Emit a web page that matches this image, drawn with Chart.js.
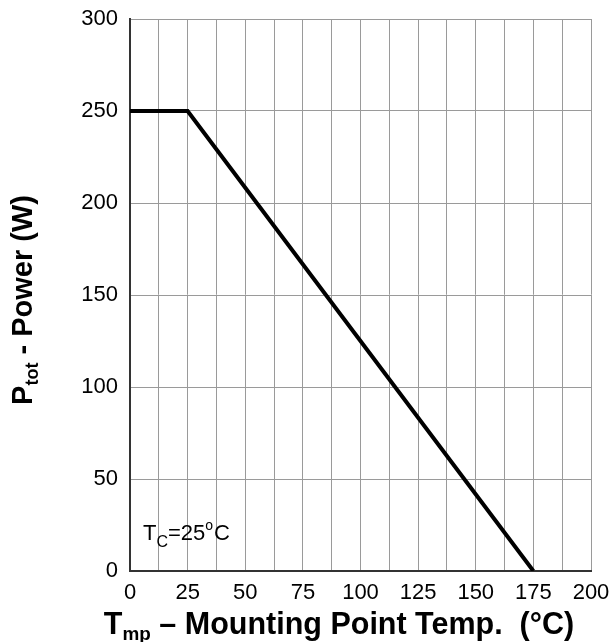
<!DOCTYPE html>
<html>
<head>
<meta charset="utf-8">
<script src="https://cdn.jsdelivr.net/npm/chart.js@4"></script>
<style>
  body { margin: 0; background: #fff; }
  #wrap { width: 611px; height: 642px; }
</style>
</head>
<body>
<div id="wrap"><canvas id="derating"></canvas></div>
<script>
// derating curve
const tempC = [0, 25, 175];
const powerW = [250, 250, 0];
const xTicks = [0, 25, 50, 75, 100, 125, 150, 175, 200];
const yTicks = [0, 50, 100, 150, 200, 250, 300];

const FONT = "'Liberation Sans', Arial, sans-serif";

// draws text with a subscript part: parts = [[text, sub?], ...]
function drawParts(ctx, parts, x, y, size, align) {
  let total = 0;
  parts.forEach(p => {
    ctx.font = "bold " + (p[1] ? size * 0.62 : size) + "px " + FONT;
    total += ctx.measureText(p[0]).width;
  });
  let cx = align === "center" ? x - total / 2 : x;
  parts.forEach(p => {
    ctx.font = "bold " + (p[1] ? size * 0.62 : size) + "px " + FONT;
    ctx.fillText(p[0], cx, p[1] ? y + size * 0.2 : y);
    cx += ctx.measureText(p[0]).width;
  });
}

const labelsPlugin = {
  id: "labels",
  afterDraw(chart) {
    const ctx = chart.ctx;
    ctx.save();
    ctx.fillStyle = "#000";
    ctx.textBaseline = "alphabetic";
    ctx.textAlign = "left";

    // x axis title
    drawParts(ctx, [["T"], ["mp", true], [" \u2013 Mounting Point Temp.  (\u00b0C)"]],
      339, 634, 30.5, "center");

    // y axis title
    ctx.translate(32, 300);
    ctx.rotate(-Math.PI / 2);
    drawParts(ctx, [["P"], ["tot", true], [" - Power (W)"]], 0, 0, 29, "center");
    ctx.restore();

    // TC note
    ctx.save();
    ctx.fillStyle = "#000";
    ctx.font = "22px " + FONT;
    let x = 143, y = 540;
    ctx.fillText("T", x, y);
    x += ctx.measureText("T").width;
    ctx.font = "16px " + FONT;
    ctx.fillText("C", x, y + 7);
    x += ctx.measureText("C").width;
    ctx.font = "22px " + FONT;
    ctx.fillText("=25", x, y);
    x += ctx.measureText("=25").width;
    ctx.font = "14px " + FONT;
    ctx.fillText("o", x, y - 10);
    x += ctx.measureText("o").width + 1;
    ctx.font = "22px " + FONT;
    ctx.fillText("C", x, y);
    ctx.restore();
  }
};

new Chart(document.getElementById("derating"), {
  type: "line",
  data: {
    datasets: [{
      data: tempC.map((t, i) => ({ x: t, y: powerW[i] })),
      borderColor: "#000",
      borderWidth: 4,
      pointRadius: 0,
      tension: 0
    }]
  },
  options: {
    responsive: true,
    maintainAspectRatio: false,
    animation: false,
    layout: { padding: { top: 19, right: 20, left: 0, bottom: 0 } },
    plugins: { legend: { display: false }, tooltip: { enabled: false } },
    scales: {
      x: {
        type: "linear",
        min: 0, max: 200,
        ticks: {
          stepSize: 12.5,
          autoSkip: false,
          maxRotation: 0,
          padding: 9,
          color: "#000",
          font: { family: FONT, size: 22 },
          callback: v => xTicks.includes(v) ? String(v) : ""
        },
        grid: { color: "#9a9a9a", lineWidth: 1, drawTicks: false },
        border: { color: "#333", width: 2 },
        afterFit: s => { s.height = 71; s.paddingLeft = 0; s.paddingRight = 0; }
      },
      y: {
        min: 0, max: 300,
        ticks: {
          stepSize: 50,
          padding: 12,
          color: "#000",
          font: { family: FONT, size: 22 },
          callback: v => yTicks.includes(v) ? String(v) : ""
        },
        grid: { color: "#9a9a9a", lineWidth: 1, drawTicks: false },
        border: { color: "#333", width: 2 },
        afterFit: s => { s.width = 130; s.paddingTop = 0; s.paddingBottom = 0; }
      }
    }
  },
  plugins: [labelsPlugin]
});
</script>
</body>
</html>
